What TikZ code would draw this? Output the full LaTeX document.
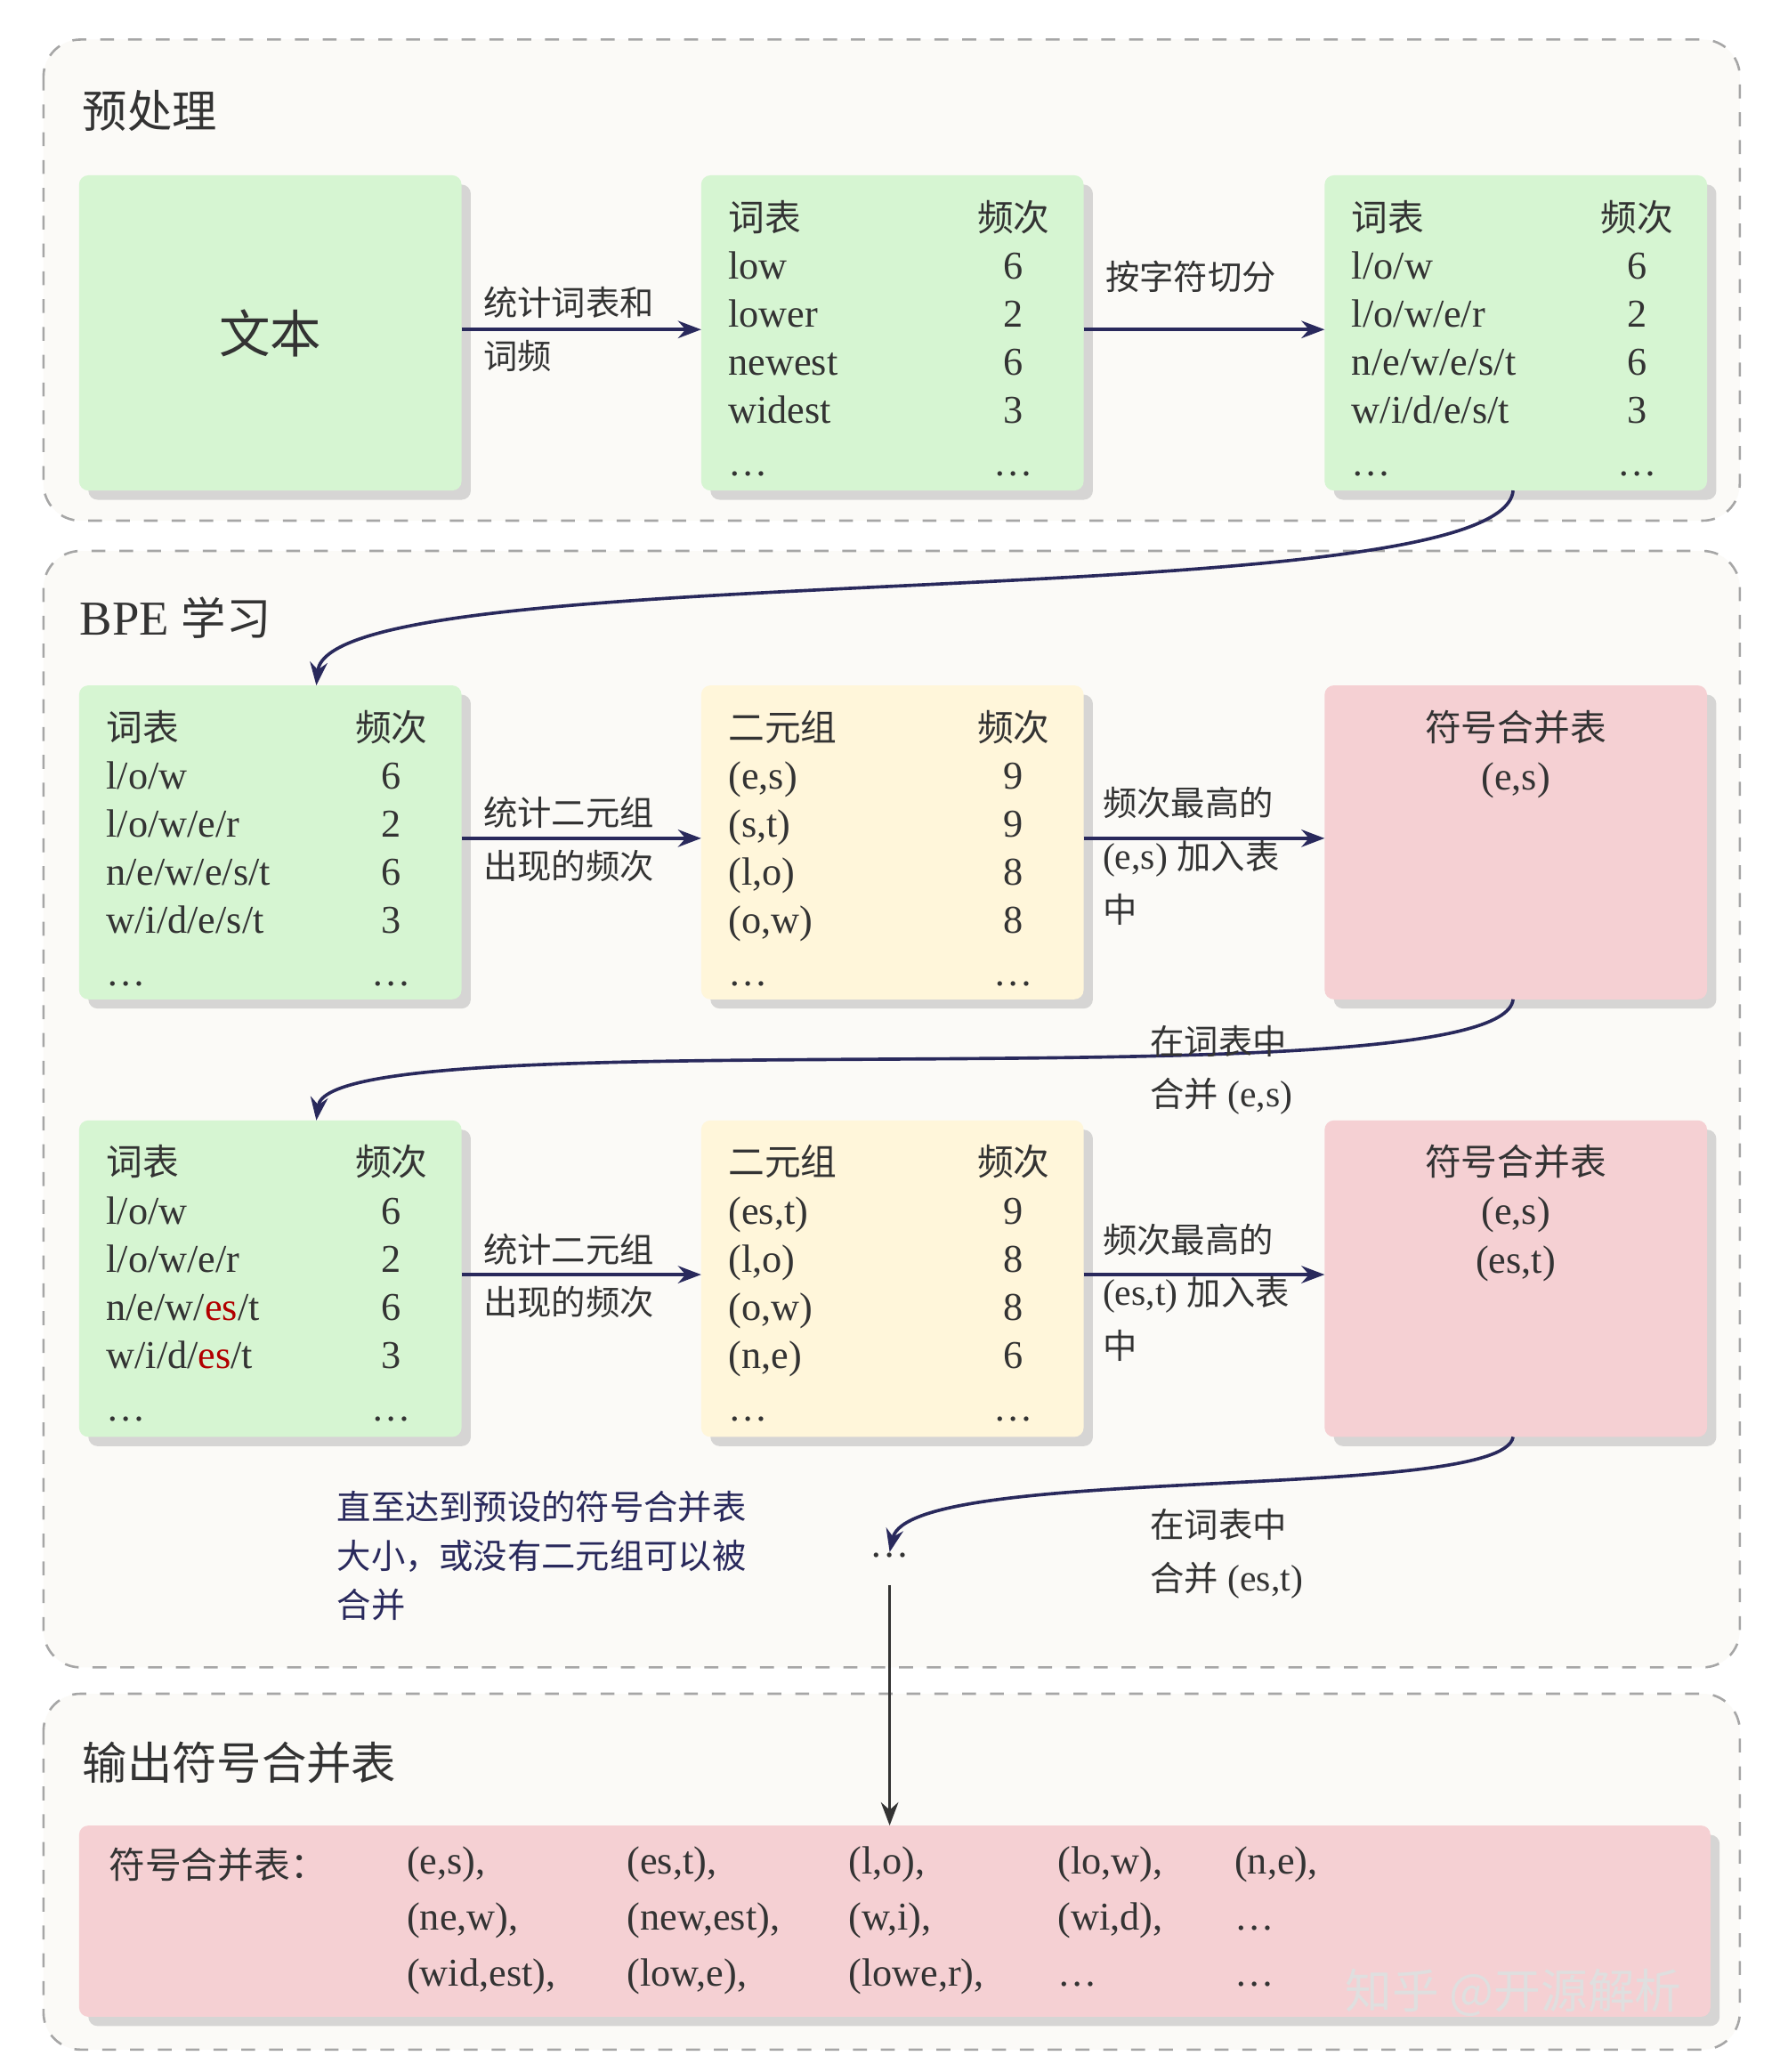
\documentclass[tikz,border=0pt]{standalone}
\usepackage{fontspec}
\setmainfont{Liberation Serif}
\newfontfamily\cjk{Noto Sans CJK SC}[Scale=0.92]
\usetikzlibrary{shadows,arrows.meta}
\newcommand{\C}[1]{{\cjk #1}}
\definecolor{gbox}{HTML}{D6F5D2}
\definecolor{ybox}{HTML}{FFF6DA}
\definecolor{pbox}{HTML}{F5D0D3}
\definecolor{sec}{HTML}{FBFAF7}
\definecolor{txt}{HTML}{333333}
\tikzset{
 secbox/.style={draw=gray!70,dashed,fill=sec,rounded corners=8pt,line width=0.5pt},
 cbox/.style={rounded corners=2pt,inner sep=0pt,outer sep=0pt,anchor=north west,minimum width=2.9cm,drop shadow={shadow xshift=2pt,shadow yshift=-2pt,fill=gray!60}},
 tt/.style={anchor=base west,inner sep=0pt,text=txt,font=\fontsize{8.5pt}{10pt}\selectfont},
 tr/.style={anchor=base,inner sep=0pt,text=txt,font=\fontsize{8.5pt}{10pt}\selectfont},
 title/.style={anchor=base west,inner sep=0pt,text=txt,font=\fontsize{10.5pt}{12pt}\selectfont},
 lab/.style={anchor=base west,inner sep=0pt,text=txt,align=left,font=\fontsize{8pt}{11.5pt}\selectfont},
 arr/.style={-{Stealth[length=5pt]},line width=0.7pt,draw=txt!80!blue},
}
\newcommand{\es}{\textcolor{red!70!black}{es}}
% table: #1 left x, #2 top y, #3 header left, #4 rows
\newcommand{\tbl}[4]{%
 \node[tt] at (#1+20,#2+42) {#3};
 \node[tr] at (#1+237,#2+42) {\C{频次}};
 \foreach \a/\b [count=\i] in {#4}{
   \node[tt] at (#1+20,#2+42+\i*36.5) {\a};
   \node[tr] at (#1+237,#2+42+\i*36.5) {\b};
 }
 \node[tt] at (#1+20,#2+228) {\dots};
 \node[tr] at (#1+237,#2+228) {\dots};
}
\begin{document}
\begin{tikzpicture}[x=0.01cm,y=-0.01cm]
\useasboundingbox[fill=white] (0,0) rectangle (1350,1572);
% sections
\draw[secbox] (33,30) rectangle (1320,395);
\draw[secbox] (33,418) rectangle (1320,1265);
\draw[secbox] (33,1285) rectangle (1320,1555);
\node[title] at (62,97) {\C{预处理}};
\node[title] at (60,482) {BPE \C{学习}};
\node[title] at (62,1350) {\C{输出符号合并表}};
% row 0
\node[cbox,fill=gbox,minimum height=2.39cm] (t) at (60,133) {};
\node[text=txt,font=\fontsize{12pt}{14pt}\selectfont] at (t.center) {\C{文本}};
\node[cbox,fill=gbox,minimum height=2.39cm] (v1) at (532,133) {};
\node[cbox,fill=gbox,minimum height=2.39cm] (v2) at (1005,133) {};
\tbl{532}{133}{\C{词表}}{low/6,lower/2,newest/6,widest/3}
\tbl{1005}{133}{\C{词表}}{{l/o/w}/6,{l/o/w/e/r}/2,{n/e/w/e/s/t}/6,{w/i/d/e/s/t}/3}
\draw[arr] (t.east|-0,250) -- (v1.west|-0,250);
\node[lab] at (366,280) {\C{统计词表和}\\\C{词频}};
\draw[arr] (v1.east|-0,250) -- (v2.west|-0,250);
\node[lab] at (838,220) {\C{按字符切分}};
% row 1
\node[cbox,fill=gbox,minimum height=2.38cm] (a1) at (60,520) {};
\node[cbox,fill=ybox,minimum height=2.38cm] (b1) at (532,520) {};
\node[cbox,fill=pbox,minimum height=2.38cm] (c1) at (1005,520) {};
\tbl{60}{520}{\C{词表}}{{l/o/w}/6,{l/o/w/e/r}/2,{n/e/w/e/s/t}/6,{w/i/d/e/s/t}/3}
\tbl{532}{520}{\C{二元组}}{(e{,}s)/9,(s{,}t)/9,(l{,}o)/8,(o{,}w)/8}
\node[tr] at (1150,562) {\C{符号合并表}};
\node[tr] at (1150,599) {(e,s)};
\draw[arr] (a1.east|-0,636) -- (b1.west|-0,636);
\node[lab] at (366,667) {\C{统计二元组}\\\C{出现的频次}};
\draw[arr] (b1.east|-0,636) -- (c1.west|-0,636);
\node[lab] at (836,700) {\C{频次最高的}\\(e,s) \C{加入表}\\\C{中}};
% row 2
\node[cbox,fill=gbox,minimum height=2.4cm] (a2) at (60,850) {};
\node[cbox,fill=ybox,minimum height=2.4cm] (b2) at (532,850) {};
\node[cbox,fill=pbox,minimum height=2.4cm] (c2) at (1005,850) {};
\tbl{60}{850}{\C{词表}}{{l/o/w}/6,{l/o/w/e/r}/2,{n/e/w/\es/t}/6,{w/i/d/\es/t}/3}
\tbl{532}{850}{\C{二元组}}{(es{,}t)/9,(l{,}o)/8,(o{,}w)/8,(n{,}e)/6}
\node[tr] at (1150,892) {\C{符号合并表}};
\node[tr] at (1150,929) {(e,s)};
\node[tr] at (1150,966) {(es,t)};
\draw[arr] (a2.east|-0,967) -- (b2.west|-0,967);
\node[lab] at (366,998) {\C{统计二元组}\\\C{出现的频次}};
\draw[arr] (b2.east|-0,967) -- (c2.west|-0,967);
\node[lab] at (836,1031) {\C{频次最高的}\\(es,t) \C{加入表}\\\C{中}};
% curves
\draw[arr] (v2.south-|1148,0) .. controls (1140,470) and (250,420) .. (a1.north-|240,0);
\draw[arr] (c1.south-|1148,0) .. controls (1140,840) and (250,770) .. (a2.north-|240,0);
\node[lab] at (872,840) {\C{在词表中}\\\C{合并} (e,s)};
\node[inner sep=0pt,text=txt,font=\fontsize{8.5pt}{10pt}\selectfont] (dots) at (675,1180) {\dots};
\draw[arr] (c2.south-|1148,0) .. controls (1140,1140) and (690,1110) .. (dots.north);
\node[lab] at (872,1207) {\C{在词表中}\\\C{合并} (es,t)};
\node[lab,text=txt!80!blue,font=\fontsize{8pt}{10.5pt}\selectfont] at (255,1227) {\C{直至达到预设的符号合并表}\\\C{大小，或没有二元组可以被}\\\C{合并}};
% output
\node[cbox,fill=pbox,minimum width=12.37cm,minimum height=1.45cm] (out) at (60,1385) {};
\coordinate (d0) at ([yshift=-0.2cm]dots.south);
\draw[arr,draw=txt] (d0) -- (out.north-|d0);
\node[tt] at (82,1425) {\C{符号合并表：}};
\foreach \x/\a/\b/\c in {308/(e{,}s){,}/(ne{,}w){,}/(wid{,}est){,},475/(es{,}t){,}/(new{,}est){,}/(low{,}e){,},643/(l{,}o){,}/(w{,}i){,}/(lowe{,}r){,},802/(lo{,}w){,}/(wi{,}d){,}/\dots,936/(n{,}e){,}/\dots/\dots}{
 \node[tt] at (\x,1422) {\a};
 \node[tt] at (\x,1464) {\b};
 \node[tt] at (\x,1507) {\c};
}
\node[anchor=base west,inner sep=0pt,text=white!75!gray,font=\cjk\fontsize{11pt}{13pt}\selectfont] at (1020,1524) {知乎 @开源解析};
\end{tikzpicture}
\end{document}
